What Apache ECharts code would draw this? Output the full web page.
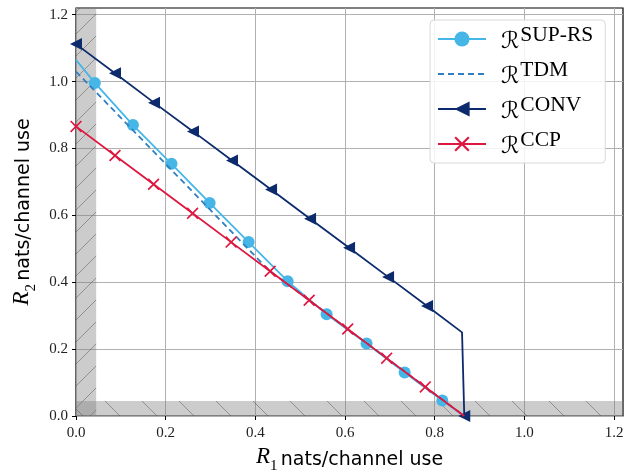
<!DOCTYPE html>
<html lang="en">
<head>
    <meta charset="UTF-8">
    <title>Rate regions</title>
    <script src="https://cdn.jsdelivr.net/npm/echarts@6/dist/echarts.min.js"></script>
</head>
<body style="margin:0">
<div id="chart" style="width: 641px;height: 473px;"></div>
<script>
    // R1 / R2 points
    var supX = [0, 0.042, 0.127, 0.213, 0.298, 0.385, 0.472, 0.559, 0.648, 0.733, 0.817, 0.866];
    var supY = [1.065, 0.996, 0.870, 0.754, 0.637, 0.520, 0.403, 0.304, 0.217, 0.130, 0.046, 0];
    var supMark = [0, 1, 1, 1, 1, 1, 1, 1, 1, 1, 1, 0];

    var tdmX = [0, 0.43, 0.866];
    var tdmY = [1.03, 0.436, 0];

    var convX = [0, 0.087, 0.174, 0.261, 0.348, 0.435, 0.522, 0.609, 0.696, 0.783, 0.861, 0.866];
    var convY = [1.112, 1.025, 0.937, 0.851, 0.764, 0.677, 0.590, 0.503, 0.416, 0.329, 0.250, 0];
    var convMark = [1, 1, 1, 1, 1, 1, 1, 1, 1, 1, 0, 1];

    var ccpX = [0, 0.087, 0.173, 0.260, 0.346, 0.433, 0.520, 0.606, 0.693, 0.779, 0.866];
    var ccpY = [0.866, 0.779, 0.693, 0.606, 0.520, 0.433, 0.346, 0.260, 0.173, 0.087, 0];
    var ccpMark = [1, 1, 1, 1, 1, 1, 1, 1, 1, 1, 0];

    var axisTicks = [0, 0.2, 0.4, 0.6, 0.8, 1.0, 1.2];
    var axisMax = 1.22;
    var band = 0.045;   // width of the shaded strips

    function pts(xs, ys, marks) {
        var out = [];
        for (var i = 0; i < xs.length; i++) {
            var item = {value: [xs[i], ys[i]]};
            if (marks && !marks[i]) item.symbol = 'none';
            out.push(item);
        }
        return out;
    }

    // grey fill with diagonal hatch lines, used as a pattern
    function hatch(size, forward) {
        var c = document.createElement('canvas');
        c.width = size;
        c.height = size;
        var ctx = c.getContext('2d');
        ctx.fillStyle = 'rgba(128,128,128,0.4)';
        ctx.fillRect(0, 0, size, size);
        ctx.strokeStyle = 'rgba(70,70,70,0.45)';
        ctx.lineWidth = 1;
        ctx.beginPath();
        if (forward) {
            ctx.moveTo(-2, size + 2); ctx.lineTo(size + 2, -2);
        } else {
            ctx.moveTo(-2, -2); ctx.lineTo(size + 2, size + 2);
        }
        ctx.stroke();
        return {image: c, repeat: 'repeat'};
    }

    var xShape = 'path://M0,1 L1,0 L5,4 L9,0 L10,1 L6,5 L10,9 L9,10 L5,6 L1,10 L0,9 L4,5 Z';
    var serif = "'Liberation Serif', serif";
    var titleRich = {
        i: {fontFamily: serif, fontStyle: 'italic', fontSize: 23, lineHeight: 28, verticalAlign: 'top', color: '#000'},
        sub: {fontFamily: serif, fontSize: 15, lineHeight: 28, verticalAlign: 'bottom', color: '#000'},
        t: {fontFamily: "'DejaVu Sans', sans-serif", fontSize: 19, lineHeight: 28, color: '#000'}
    };

    var myChart = echarts.init(document.getElementById('chart'));
    var option = {
        animation: false,
        grid: {
            left: 76, right: 18, top: 8, bottom: 57,
            outerBoundsMode: 'none',
            containLabel: false,
            show: true,
            borderColor: '#000',
            borderWidth: 1.2
        },
        legend: {
            orient: 'vertical',
            left: 430,
            top: 20,
            padding: [4, 12, 4, 7],
            itemWidth: 48,
            itemHeight: 19,
            itemGap: 5,
            backgroundColor: 'rgba(255,255,255,0.85)',
            borderColor: '#d8d8d8',
            borderWidth: 1,
            borderRadius: 4,
            data: [
                'SUP-RS',
                {name: 'TDM', itemStyle: {opacity: 0}},
                'CONV',
                'CCP'
            ],
            formatter: function (name) {
                return '{r|ℛ}{s|' + name + '}';
            },
            textStyle: {
                color: '#000',
                rich: {
                    r: {fontFamily: "'DejaVu Sans', sans-serif", fontSize: 23, padding: [0, 1, 0, 10], lineHeight: 30, verticalAlign: 'bottom'},
                    s: {fontFamily: serif, fontSize: 21.5, lineHeight: 30, verticalAlign: 'top'}
                }
            }
        },
        xAxis: {
            type: 'value',
            min: 0,
            max: axisMax,
            interval: 0.2,
            name: '{i|R}{sub|1} {t|nats/channel use}',
            nameLocation: 'middle',
            nameGap: 26,
            nameTextStyle: {rich: titleRich},
            axisLine: {show: false},
            axisTick: {show: true, length: 4, customValues: axisTicks, lineStyle: {color: '#000'}},
            axisLabel: {
                customValues: axisTicks,
                margin: 10,
                color: '#222',
                fontFamily: serif,
                fontSize: 15,
                formatter: function (v) { return v.toFixed(1); }
            },
            splitLine: {show: true, lineStyle: {color: '#b0b0b0', width: 1}}
        },
        yAxis: {
            type: 'value',
            min: 0,
            max: axisMax,
            interval: 0.2,
            name: '{i|R}{sub|2} {t|nats/channel use}',
            nameLocation: 'middle',
            nameGap: 35,
            nameTextStyle: {rich: titleRich},
            axisLine: {show: false},
            axisTick: {show: true, length: 4, customValues: axisTicks, lineStyle: {color: '#000'}},
            axisLabel: {
                customValues: axisTicks,
                margin: 8,
                color: '#222',
                fontFamily: serif,
                fontSize: 15,
                formatter: function (v) { return v.toFixed(1); }
            },
            splitLine: {show: true, lineStyle: {color: '#b0b0b0', width: 1}}
        },
        series: [
            {
                // shaded strips near the axes
                name: 'bands',
                type: 'line',
                data: [],
                z: 1,
                markArea: {
                    silent: true,
                    data: [
                        [{coord: [0, 0], itemStyle: {color: hatch(22, true)}}, {coord: [band, axisMax]}],
                        [{coord: [0, 0], itemStyle: {color: hatch(37, false)}}, {coord: [axisMax, band]}]
                    ]
                }
            },
            {
                name: 'SUP-RS',
                type: 'line',
                z: 3,
                data: pts(supX, supY, supMark),
                symbol: 'circle',
                symbolSize: 12,
                color: '#45b6e6',
                lineStyle: {width: 1.8}
            },
            {
                name: 'TDM',
                type: 'line',
                z: 4,
                data: pts(tdmX, tdmY),
                symbol: 'none',
                color: '#2f7fc1',
                lineStyle: {width: 1.8, type: [6, 4]}
            },
            {
                name: 'CONV',
                type: 'line',
                z: 5,
                data: pts(convX, convY, convMark),
                symbol: 'triangle',
                symbolRotate: 90,
                symbolSize: 12,
                color: '#0c2a6c',
                lineStyle: {width: 1.8}
            },
            {
                name: 'CCP',
                type: 'line',
                z: 6,
                data: pts(ccpX, ccpY, ccpMark),
                symbol: xShape,
                symbolSize: 12,
                color: '#df173f',
                lineStyle: {width: 1.8}
            }
        ]
    };
    myChart.setOption(option);
</script>
</body>
</html>
